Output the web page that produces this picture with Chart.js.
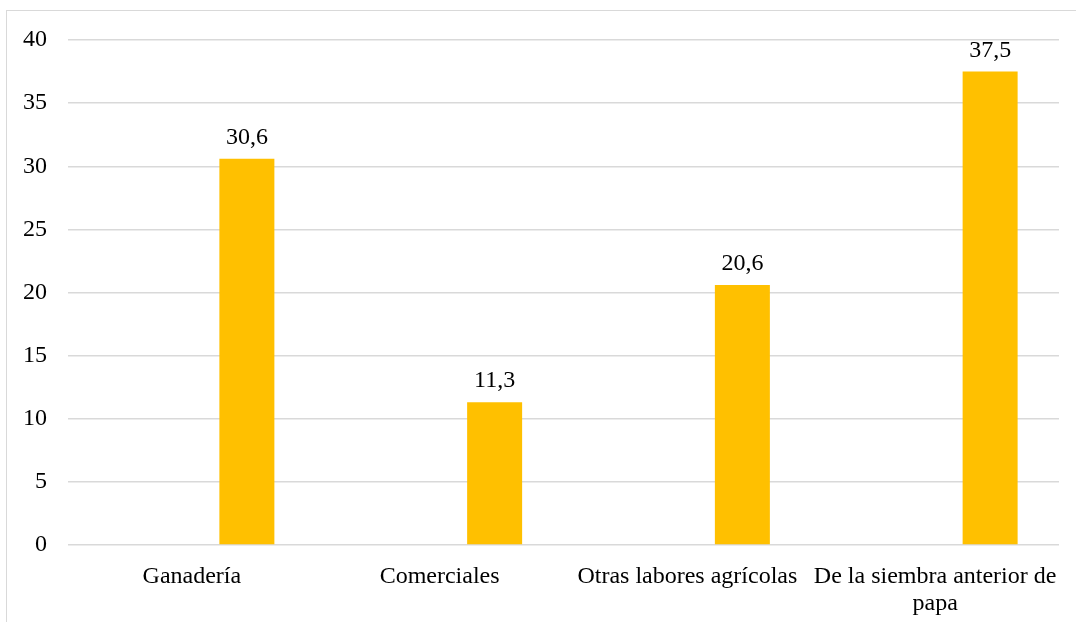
<!DOCTYPE html>
<html>
<head>
<meta charset="utf-8">
<script src="https://cdn.jsdelivr.net/npm/chart.js@4.4.0/dist/chart.umd.min.js"></script>
<style>
    html, body { margin: 0; padding: 0; background: #fff; overflow: hidden; }
    #frame { position: absolute; left: 6px; top: 10px; width: 1200px; height: 800px; border: 1px solid #d9d9d9; }
    #myChart { position: absolute; left: 0; top: 0; }
</style>
</head>
<body>
<div id="frame"></div>
<canvas id="myChart" width="1076" height="622"></canvas>
<script>
var categories = ['Ganadería', 'Comerciales', 'Otras labores agrícolas', ['De la siembra anterior de', 'papa']];
var empty1 = [null, null, null, null];
var empty2 = [null, null, null, null];
var values = [30.6, 11.3, 20.6, 37.5];
var yMin = 0;
var yMax = 40;
var yStep = 5;

var fontFamily = "'Liberation Serif', 'Times New Roman', serif";

// writes the value on top of each bar, with a comma as decimal mark
var barLabels = {
    id: 'barLabels',
    afterDatasetsDraw: function (chart) {
        var ctx = chart.ctx;
        ctx.save();
        ctx.font = '24px ' + fontFamily;
        ctx.fillStyle = '#000';
        ctx.textAlign = 'center';
        ctx.textBaseline = 'alphabetic';
        chart.data.datasets.forEach(function (ds, i) {
            var meta = chart.getDatasetMeta(i);
            meta.data.forEach(function (bar, j) {
                var v = ds.data[j];
                if (v === null) return;
                ctx.fillText(v.toFixed(1).replace('.', ','), bar.x, bar.y - 15);
            });
        });
        ctx.restore();
    }
};

var ctx = document.getElementById('myChart').getContext('2d');
var chart = new Chart(ctx, {
    type: 'bar',
    data: {
        labels: categories,
        datasets: [
            { data: empty1, backgroundColor: '#4472C4' },
            { data: empty2, backgroundColor: '#ED7D31' },
            { data: values, backgroundColor: '#FFC000' }
        ]
    },
    options: {
        responsive: false,
        animation: false,
        categoryPercentage: 0.666,
        barPercentage: 1,
        layout: { padding: { left: 0, right: 17, top: 40, bottom: 0 } },
        plugins: {
            legend: { display: false },
            tooltip: { enabled: false }
        },
        scales: {
            x: {
                grid: { display: false },
                border: { display: false },
                ticks: {
                    color: '#000',
                    font: { family: fontFamily, size: 24, lineHeight: 1.12 },
                    maxRotation: 0,
                    autoSkip: false,
                    padding: 10
                },
                afterFit: function (scale) { scale.height = 77; }
            },
            y: {
                min: yMin,
                max: yMax,
                grid: { color: '#d9d9d9', lineWidth: 1.5, drawTicks: false },
                border: { display: false },
                ticks: {
                    stepSize: yStep,
                    color: '#000',
                    font: { family: fontFamily, size: 24 },
                    padding: 21
                },
                afterFit: function (scale) { scale.width = 68; }
            }
        }
    },
    plugins: [barLabels]
});
</script>
</body>
</html>
